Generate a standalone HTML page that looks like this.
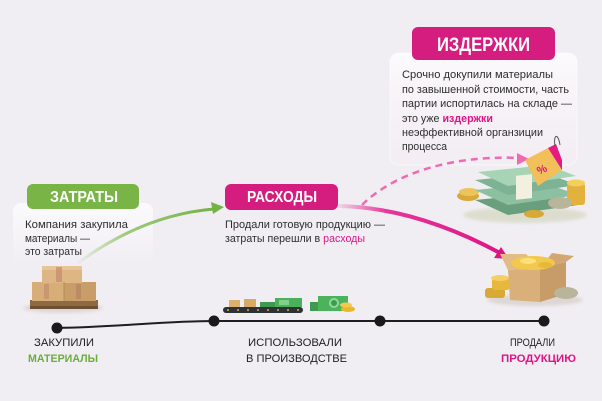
<!DOCTYPE html>
<html><head><meta charset="utf-8">
<style>
html,body{margin:0;padding:0;background:#f1eef3;}
svg{display:block;font-family:"Liberation Sans",sans-serif;}
</style></head>
<body>
<svg width="602" height="401" viewBox="0 0 602 401" xmlns="http://www.w3.org/2000/svg">
<defs>
<linearGradient id="gG" x1="0" y1="0" x2="1" y2="0">
<stop offset="0" stop-color="#7ab648" stop-opacity="0.05"/>
<stop offset="0.35" stop-color="#7ab648" stop-opacity="0.7"/>
<stop offset="1" stop-color="#74b343"/>
</linearGradient>
<linearGradient id="gP" x1="0" y1="0" x2="1" y2="0">
<stop offset="0" stop-color="#e4168a" stop-opacity="0.1"/>
<stop offset="0.3" stop-color="#e4168a" stop-opacity="0.85"/>
<stop offset="1" stop-color="#dc1585"/>
</linearGradient>
<linearGradient id="cardW" x1="0" y1="0" x2="0" y2="1">
<stop offset="0" stop-color="#ffffff" stop-opacity="0.75"/>
<stop offset="1" stop-color="#fbeef6" stop-opacity="0.2"/>
</linearGradient>
<linearGradient id="cardG" x1="0" y1="0" x2="0" y2="1">
<stop offset="0" stop-color="#ffffff" stop-opacity="0.7"/>
<stop offset="1" stop-color="#ffffff" stop-opacity="0"/>
</linearGradient>
<filter id="sh" x="-20%" y="-20%" width="140%" height="140%"><feGaussianBlur stdDeviation="1.5"/></filter>
</defs>

<rect width="602" height="401" fill="#f1eef3"/>

<!-- ИЗДЕРЖКИ card -->
<rect x="390" y="53" width="187" height="112" rx="9" fill="url(#cardW)" stroke="#ffffff" stroke-opacity="0.5"/>
<rect x="412" y="27" width="143" height="33" rx="6" fill="#d41d7f"/>
<text x="437" y="51" font-size="19" font-weight="bold" fill="#fff" textLength="93" lengthAdjust="spacingAndGlyphs">ИЗДЕРЖКИ</text>
<g font-size="11" fill="#2d2d2d">
<text x="402" y="78" textLength="151" lengthAdjust="spacingAndGlyphs">Срочно докупили материалы</text>
<text x="402" y="93" textLength="167" lengthAdjust="spacingAndGlyphs">по завышенной стоимости, часть</text>
<text x="402" y="107" textLength="170" lengthAdjust="spacingAndGlyphs">партии испортилась на складе —</text>
<text x="402" y="122" textLength="91" lengthAdjust="spacingAndGlyphs">это уже <tspan fill="#e0148a" font-weight="bold">издержки</tspan></text>
<text x="402" y="136" textLength="141" lengthAdjust="spacingAndGlyphs">неэффективной органзиции</text>
<text x="402" y="150" textLength="45" lengthAdjust="spacingAndGlyphs">процесса</text>
</g>

<!-- ЗАТРАТЫ card -->
<rect x="13" y="203" width="140" height="62" rx="8" fill="url(#cardG)"/>
<rect x="27" y="184" width="112" height="25" rx="6" fill="#79b546"/>
<text x="50" y="202" font-size="16" font-weight="bold" fill="#fff" textLength="68" lengthAdjust="spacingAndGlyphs">ЗАТРАТЫ</text>
<g font-size="11" fill="#2d2d2d">
<text x="25" y="228" textLength="103" lengthAdjust="spacingAndGlyphs">Компания закупила</text>
<text x="25" y="242" textLength="65" lengthAdjust="spacingAndGlyphs">материалы —</text>
<text x="25" y="255" textLength="57" lengthAdjust="spacingAndGlyphs">это затраты</text>
</g>

<!-- РАСХОДЫ -->
<rect x="225" y="184" width="113" height="26" rx="6" fill="#d41d7f"/>
<text x="247" y="202" font-size="16" font-weight="bold" fill="#fff" textLength="70" lengthAdjust="spacingAndGlyphs">РАСХОДЫ</text>
<g font-size="11" fill="#2d2d2d">
<text x="225" y="228" textLength="160" lengthAdjust="spacingAndGlyphs">Продали готовую продукцию —</text>
<text x="225" y="242" textLength="140" lengthAdjust="spacingAndGlyphs">затраты перешли в <tspan fill="#e0148a">расходы</tspan></text>
</g>

<!-- green arrow -->
<path d="M78,263 C120,232 165,213 214,209" fill="none" stroke="url(#gG)" stroke-width="3"/>
<polygon points="224,207 211,202 213,214" fill="#74b343"/>

<!-- pink solid arrow -->
<path d="M338,206 C395,207 450,226 500,253" fill="none" stroke="url(#gP)" stroke-width="4"/>
<polygon points="509,259 494,258 501,247" fill="#dc1585"/>

<!-- pink dashed arrow -->
<path d="M362,205 C395,172 455,155 520,158" fill="none" stroke="#f06ab2" stroke-width="2.5" stroke-dasharray="7,5"/>
<polygon points="529,159 517,153 517,165" fill="#f06ab2"/>

<!-- boxes on pallet -->
<g>
<ellipse cx="63" cy="308" rx="40" ry="5" fill="#cfc7c9" opacity="0.6" filter="url(#sh)"/>
<rect x="30" y="300" width="68" height="8" fill="#8d6a43"/>
<rect x="30" y="306" width="68" height="3" fill="#6e5030"/>
<rect x="32" y="282" width="32" height="19" fill="#d7ad78"/>
<rect x="64" y="282" width="32" height="19" fill="#c99d68"/>
<rect x="42" y="266" width="40" height="17" fill="#deb683"/>
<rect x="42" y="266" width="40" height="4" fill="#e8c596"/>
<rect x="56" y="267" width="6" height="15" fill="#c0826a" opacity="0.6"/>
<rect x="44" y="284" width="5" height="15" fill="#c0826a" opacity="0.5"/>
<rect x="76" y="284" width="5" height="15" fill="#b07a5e" opacity="0.5"/>
<line x1="64" y1="282" x2="64" y2="301" stroke="#b58a58" stroke-width="1"/>
</g>

<!-- conveyor -->
<g>
<rect x="223" y="307" width="80" height="6" rx="3" fill="#2c3236"/>
<g fill="#c9b24a"><circle cx="228" cy="310" r="1"/><circle cx="238" cy="310" r="1"/><circle cx="248" cy="310" r="1"/><circle cx="258" cy="310" r="1"/><circle cx="268" cy="310" r="1"/><circle cx="278" cy="310" r="1"/><circle cx="288" cy="310" r="1"/><circle cx="298" cy="310" r="1"/></g>
<rect x="229" y="300" width="11" height="7" fill="#dcb06d"/>
<rect x="244" y="299" width="12" height="8" fill="#d9aa66"/>
<rect x="260" y="302" width="22" height="5" fill="#3e9a4e"/>
<rect x="275" y="298" width="27" height="9" fill="#4caf5a"/>
<rect x="279" y="300" width="10" height="5" fill="#7fd08a"/>
<rect x="310" y="302" width="14" height="9" fill="#3e9a4e"/>
<rect x="318" y="296" width="30" height="15" fill="#4cb35c"/>
<circle cx="334" cy="303" r="5" fill="#8fd99a"/>
<circle cx="334" cy="303" r="3" fill="#3e9a4e"/>
<ellipse cx="348" cy="309" rx="7" ry="3" fill="#e6b82a"/>
<ellipse cx="346" cy="305" rx="6" ry="2.5" fill="#f2c94c"/>
</g>

<!-- money stack with tag -->
<g>
<ellipse cx="525" cy="215" rx="62" ry="8" fill="#cfd3b8" opacity="0.6" filter="url(#sh)"/>
<ellipse cx="468" cy="196" rx="11" ry="5" fill="#d8a83a"/>
<ellipse cx="469" cy="192" rx="10" ry="4" fill="#ecc45a"/>
<polygon points="475,200 545,193 578,205 508,215" fill="#6a9f7d"/>
<polygon points="475,190 545,183 578,195 508,205" fill="#8cc0a0"/>
<polygon points="475,180 545,173 578,185 508,195" fill="#7db394"/>
<polygon points="478,172 548,165 576,176 508,186" fill="#a6d4b4"/>
<rect x="516" y="176" width="16" height="24" fill="#f4f0e0" transform="skewY(-6) translate(0,54)"/>
<rect x="567" y="183" width="18" height="22" rx="3" fill="#e3b23c"/>
<ellipse cx="576" cy="183" rx="9" ry="3.5" fill="#f3cf5e"/>
<ellipse cx="534" cy="214" rx="10" ry="4" fill="#d9a935"/>
<ellipse cx="560" cy="203" rx="12" ry="6" fill="#b8b59a"/>
<polygon points="525,160 548,148 562,170 538,186" fill="#f1c05a"/>
<polygon points="548,148 556,144 562,160 562,170" fill="#e21d7f"/>
<text x="537" y="174" font-size="11" font-weight="bold" fill="#e0148a" transform="rotate(-25 540 170)">%</text>
<path d="M555,146 C553,135 558,132 560,145" fill="none" stroke="#555" stroke-width="1"/>
</g>

<!-- box with coins -->
<g>
<ellipse cx="535" cy="300" rx="48" ry="6" fill="#cfc7c0" opacity="0.6" filter="url(#sh)"/>
<rect x="485" y="288" width="20" height="10" rx="3" fill="#d9a935"/>
<rect x="492" y="278" width="18" height="12" rx="3" fill="#e6b83c"/>
<ellipse cx="500" cy="278" rx="9" ry="3" fill="#f4d064"/>
<polygon points="508,270 540,268 540,302 510,300" fill="#d9b07a"/>
<polygon points="540,268 566,262 566,294 540,302" fill="#c79c68"/>
<polygon points="508,270 500,254 526,254 540,268" fill="#e1bc87"/>
<polygon points="540,268 552,253 574,256 566,262" fill="#d2a774"/>
<ellipse cx="533" cy="263" rx="22" ry="7" fill="#f2c94c"/>
<ellipse cx="528" cy="261" rx="8" ry="3" fill="#ffe07a"/>
<ellipse cx="545" cy="265" rx="7" ry="3" fill="#e8b83a"/>
<ellipse cx="566" cy="293" rx="12" ry="6" fill="#b8b59a"/>
</g>

<!-- timeline -->
<path d="M57,328 C120,327 165,321 214,321 L544,321" fill="none" stroke="#1e1e1e" stroke-width="2"/>
<circle cx="57" cy="328" r="5.5" fill="#1a1a1a"/>
<circle cx="214" cy="321" r="5.5" fill="#1a1a1a"/>
<circle cx="380" cy="321" r="5.5" fill="#1a1a1a"/>
<circle cx="544" cy="321" r="5.5" fill="#1a1a1a"/>

<g font-size="11" fill="#1e1e1e">
<text x="34" y="346" textLength="60" lengthAdjust="spacingAndGlyphs">ЗАКУПИЛИ</text>
<text x="28" y="362" textLength="70" lengthAdjust="spacingAndGlyphs" fill="#6aae3c" font-weight="bold">МАТЕРИАЛЫ</text>
<text x="248" y="346" textLength="94" lengthAdjust="spacingAndGlyphs">ИСПОЛЬЗОВАЛИ</text>
<text x="246" y="362" textLength="101" lengthAdjust="spacingAndGlyphs">В ПРОИЗВОДСТВЕ</text>
<text x="510" y="346" textLength="45" lengthAdjust="spacingAndGlyphs">ПРОДАЛИ</text>
<text x="501" y="362" textLength="75" lengthAdjust="spacingAndGlyphs" fill="#e0148a" font-weight="bold">ПРОДУКЦИЮ</text>
</g>
</svg>
</body></html>
